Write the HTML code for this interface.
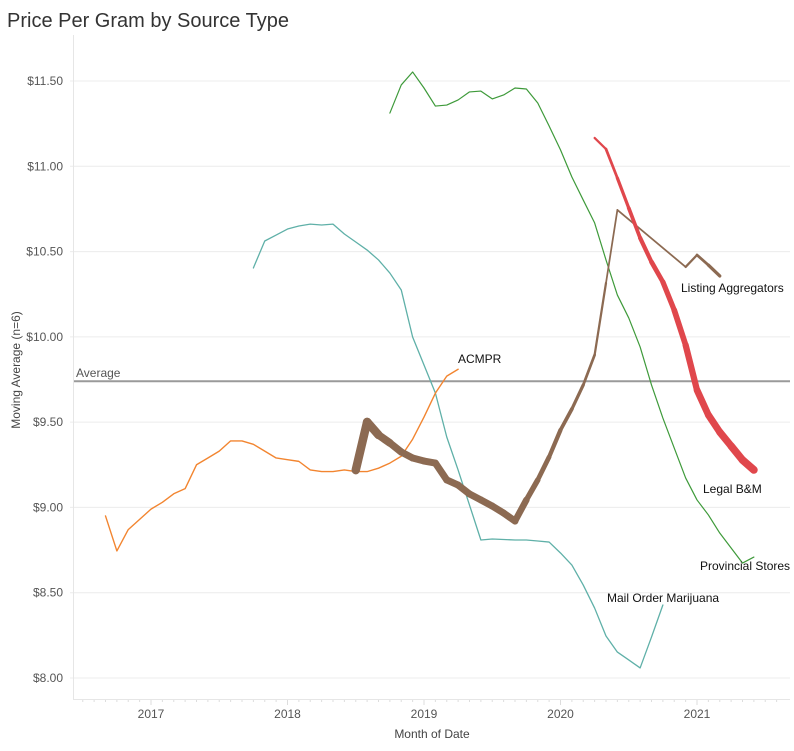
<!DOCTYPE html>
<html><head><meta charset="utf-8"><style>
body{margin:0;background:#fff;font-family:"Liberation Sans",Arial,sans-serif;}
#wrap{position:relative;width:794px;height:751px;overflow:hidden}
</style></head><body>
<div id="wrap">
<svg id="chart" width="794" height="751"></svg>
</div>
<script>
const yTicks=[8.0,8.5,9.0,9.5,10.0,10.5,11.0,11.5];
const yTickLabels=["$8.00","$8.50","$9.00","$9.50","$10.00","$10.50","$11.00","$11.50"];
const xTicks=["2017","2018","2019","2020","2021"];
const averageValue=9.74;

const acmprStart="2016-09";
const acmprValues=[8.95,8.745,8.87,8.93,8.99,9.03,9.08,9.11,9.25,9.29,9.33,9.39,9.39,9.37,9.33,9.29,9.28,9.27,9.22,9.21,9.21,9.22,9.21,9.21,9.23,9.26,9.30,9.40,9.53,9.67,9.77,9.81];

const mailStart="2017-10";
const mailValues=[10.404,10.562,10.597,10.632,10.650,10.661,10.656,10.661,10.603,10.556,10.509,10.451,10.374,10.275,9.999,9.835,9.671,9.413,9.219,9.014,8.809,8.815,8.812,8.809,8.809,8.803,8.797,8.733,8.662,8.545,8.410,8.246,8.152,8.106,8.059,8.240,8.428];

const provStart="2018-10";
const provValues=[11.312,11.477,11.553,11.459,11.353,11.359,11.389,11.436,11.441,11.395,11.418,11.459,11.453,11.371,11.236,11.096,10.937,10.802,10.668,10.451,10.245,10.111,9.941,9.718,9.524,9.348,9.173,9.044,8.956,8.850,8.762,8.674,8.709];

const legalStart="2020-04";
const legalValues=[11.166,11.101,10.931,10.755,10.580,10.439,10.322,10.157,9.952,9.688,9.542,9.442,9.360,9.278,9.220];
const legalCounts=[2,2.5,3,3.5,4,4.5,5,5.5,6,6.5,7,7,7.5,7.5,8];

const listDates=["2018-07","2018-08","2018-09","2018-10","2018-11","2018-12","2019-01","2019-02","2019-03","2019-04","2019-05","2019-06","2019-07","2019-08","2019-09","2019-10","2019-11","2019-12","2020-01","2020-02","2020-03","2020-04","2020-05","2020-06","2020-12","2021-01","2021-02","2021-03"];
const listValues=[9.219,9.501,9.425,9.378,9.325,9.290,9.272,9.260,9.161,9.131,9.079,9.044,9.008,8.967,8.920,9.044,9.161,9.296,9.454,9.577,9.718,9.894,10.316,10.744,10.410,10.480,10.421,10.357];
const listCounts=[8,9,8,7.5,7,7,7,7,7,7,7,7,7,7,7,6,5,4.5,4,3.5,3,2.5,2,1.5,2,2.5,3,3.5];

const svg=document.getElementById('chart');
const NS="http://www.w3.org/2000/svg";
function yS(v){return 678-(v-8)*170.57;}
function mIdx(s){const p=s.split('-');return (+p[0]-2017)*12+(+p[1]-1);}
function xS(m){return 151+m*11.375;}
function mk(tag,attrs,parent){const e=document.createElementNS(NS,tag);for(const k in attrs)e.setAttribute(k,attrs[k]);(parent||svg).appendChild(e);return e;}
function txt(x,y,s,attrs){const t=mk('text',Object.assign({x:x,y:y,'font-family':'Liberation Sans, Arial, sans-serif'},attrs));t.textContent=s;return t;}

const title=txt(7,27,"Price Per Gram by Source Type",{'font-size':'20','fill':'#333'});



yTicks.forEach((v,i)=>{
  const g=mk('line',{x1:70,x2:790,y1:yS(v),y2:yS(v),stroke:'#ececec','stroke-width':1});
  
  
  const t=txt(63,yS(v)+4,yTickLabels[i],{'font-size':'12','fill':'#555','text-anchor':'end'});
  
  
});
const ax=mk('line',{x1:73.5,x2:73.5,y1:35,y2:699,stroke:'#e6e6e6','stroke-width':1});


const bx=mk('line',{x1:73,x2:790,y1:699.5,y2:699.5,stroke:'#e6e6e6','stroke-width':1});


for(let m=-6;m<=55;m++){
  const x=xS(m);
  if(x<74||x>790)continue;
  const isYear=(m%12===0);
  const tk=mk('line',{x1:x,x2:x,y1:700,y2:isYear?705:702,stroke:'#ddd','stroke-width':1});
  
  
}
xTicks.forEach(s=>{
  const t=txt(xS(mIdx(s+"-01")),718,s,{'font-size':'12','fill':'#555','text-anchor':'middle'});
  
  
});
const xt=txt(432,738,"Month of Date",{'font-size':'12','fill':'#444','text-anchor':'middle'});


const yt=txt(0,0,"Moving Average (n=6)",{'font-size':'12','fill':'#444','text-anchor':'middle',transform:'translate(20,370) rotate(-90)'});



const av=mk('line',{x1:74,x2:790,y1:yS(averageValue),y2:yS(averageValue),stroke:'#9a9a9a','stroke-width':2});


const avt=txt(76,yS(averageValue)-4,"Average",{'font-size':'12','fill':'#555'});



function seqPts(start,vals){const s=mIdx(start);return vals.map((v,i)=>[xS(s+i),yS(v)]);}
function drawLine(pts,color,w,name){
  const p=mk('polyline',{points:pts.map(a=>a.join(',')).join(' '),fill:'none',stroke:color,'stroke-width':w,'stroke-linejoin':'round','stroke-linecap':'round'});
  
  
}
function drawSized(pts,sizes,color,name){
  const g=mk('g',{});
  
  
  for(let i=0;i<pts.length-1;i++){
    const s=mk('line',{x1:pts[i][0],y1:pts[i][1],x2:pts[i+1][0],y2:pts[i+1][1],stroke:color,'stroke-width':(sizes[i]+sizes[i+1])/2,'stroke-linecap':'round'},g);
    
    
  }
}
drawLine(seqPts(mailStart,mailValues),'#5fb0a8',1.3,'mail-order-line');
drawLine(seqPts(provStart,provValues),'#3e9a3a',1.2,'provincial-stores-line');
drawLine(seqPts(acmprStart,acmprValues),'#f28530',1.4,'acmpr-line');
drawSized(listDates.map((d,i)=>[xS(mIdx(d)),yS(listValues[i])]),listCounts,'#8c6a52','listing-aggregators-line');
drawSized(seqPts(legalStart,legalValues),legalCounts,'#e0474c','legal-bm-line');

const labels=[["ACMPR",458,363,'acmpr-label'],["Listing Aggregators",681,292,'listing-aggregators-label'],["Legal B&M",703,493,'legal-bm-label'],["Provincial Stores",700,570,'provincial-stores-label'],["Mail Order Marijuana",607,602,'mail-order-label']];
labels.forEach(l=>{
  const t=txt(l[1],l[2],l[0],{'font-size':'12','fill':'#111'});
  
  
});
</script>
</body></html>
